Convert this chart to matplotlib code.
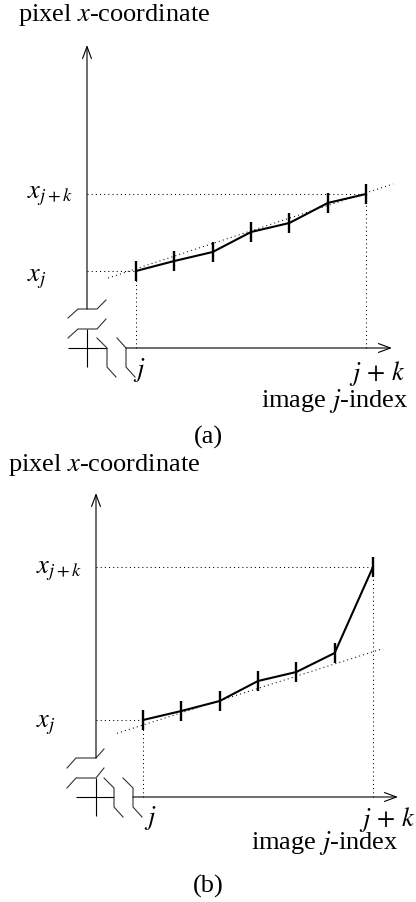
import numpy as np
import matplotlib
matplotlib.use("Agg")
import matplotlib.pyplot as plt

plt.rcParams['font.family'] = ['Liberation Serif', 'DejaVu Serif']
plt.rcParams['mathtext.fontset'] = 'stix'

# image index offset from j, and the measured pixel x-coordinate at each index
offsets = [0, 1, 2, 3, 4, 5, 6]
coord_a = [7.7, 8.7, 9.6, 11.6, 12.5, 14.5, 15.4]
coord_b = [7.7, 8.6, 9.6, 11.6, 12.5, 14.4, 23.0]

# straight-line model (value at j, slope per index) and the index range it is drawn over
fit_a = (7.92, 1.265)
fit_b = (7.2, 1.22)
span_a = (-0.73, 6.71)
span_b = (-0.68, 6.26)

panel_names = ['(a)', '(b)']

STEP = 38.33   # px per image index
UNIT = 10.0    # px per coordinate unit
W, H = 416, 451
FS = 19

# per-panel placement, in panel pixels (y measured down from panel top)
layouts = [
    dict(jx=136, base=348, yax=87, top=45, tip=392,
         ybrk=[[(-19, 30), (-9, 39), (10, 39), (19, 48)],
               [(-19, 10), (-9, 19), (10, 19), (19, 29)]],
         xbrk=[[(10, 10), (20, 0), (20, -19), (29, -29)],
               [(30, 10), (39, 0), (39, -19), (48, -29)]],
         xleft=(-19, 20), xstart=39,
         title=(18, 21), jlab=(139, 376), jk=(406, 380), idx=(408, 407),
         name=(208, 444), xj_dy=(10, 4)),
    dict(jx=143, base=346, yax=96, top=42, tip=398,
         ybrk=[[(-29, 29), (-20, 39), (0, 39), (8, 48)],
               [(-29, 9), (-20, 19), (0, 19), (8, 29)]],
         xbrk=[[(8, 19), (18, 9), (18, -10), (27, -20)],
               [(27, 19), (37, 9), (37, -10), (46, -20)]],
         xleft=(-20, 18), xstart=37,
         title=(8, 20), jlab=(150, 373), jk=(416, 375), idx=(398, 398),
         name=(208, 442), xj_dy=(7, 6)),
]


def draw_panel(ax, vals, fit, span, name, lay):
    jx, base, yax = lay['jx'], lay['base'], lay['yax']
    ax.set_xlim(-jx / STEP, (W - jx) / STEP)
    ax.set_ylim((base - H) / UNIT, base / UNIT)
    ax.axis('off')

    def P(px, py):
        return (px - jx) / STEP, (base - py) / UNIT

    def R(dx, dy):
        return (yax + dx - jx) / STEP, dy / UNIT

    x0 = (yax - jx) / STEP
    line_kw = dict(color='k', lw=0.8, solid_capstyle='butt')
    brk_kw = dict(color='0.2', lw=0.8)
    arrow = dict(arrowstyle='->,head_length=0.86,head_width=0.32', color='k',
                 lw=0.8, shrinkA=0, shrinkB=0, mutation_scale=10)

    # broken axes with open arrow heads
    ax.annotate('', xy=(x0, P(0, lay['top'])[1]), xytext=R(0, 39), arrowprops=arrow)
    ax.plot(*zip(R(0, 19), R(0, -19)), **line_kw)
    ax.plot(*zip(R(lay['xleft'][0], 0), R(lay['xleft'][1], 0)), **line_kw)
    ax.annotate('', xy=(P(lay['tip'], 0)[0], 0), xytext=R(lay['xstart'], 0), arrowprops=arrow)
    for seg in lay['ybrk'] + lay['xbrk']:
        ax.plot(*zip(*[R(dx, dy) for dx, dy in seg]), **brk_kw)

    # dotted guides to the axes
    dot = dict(color='k', lw=0.75, ls=(0, (1, 3)))
    ax.plot([x0, offsets[0]], [vals[0], vals[0]], **dot)
    ax.plot([x0, offsets[-1]], [vals[-1], vals[-1]], **dot)
    ax.plot([offsets[0], offsets[0]], [0, vals[0]], **dot)
    ax.plot([offsets[-1], offsets[-1]], [0, vals[-1]], **dot)

    # straight-line model
    xs = np.array(span)
    ax.plot(xs, fit[0] + fit[1] * xs, **dot)

    # measured coordinates
    ax.plot(offsets, vals, color='k', lw=1.5, marker='|', ms=14.4, mew=1.7)

    # labels
    lx = P(yax - 60, 0)[0]
    ax.text(lx, vals[0] - lay['xj_dy'][0] / UNIT, r'$x_j$', fontsize=FS, va='baseline', ha='left')
    ax.text(lx, vals[-1] - lay['xj_dy'][1] / UNIT, r'$x_{j+k}$', fontsize=FS, va='baseline', ha='left')
    ax.text(*P(*lay['title']), r'pixel $x$-coordinate', fontsize=FS, va='baseline', ha='left')
    ax.text(*P(*lay['jlab']), r'$j$', fontsize=FS, va='baseline', ha='center')
    ax.text(*P(*lay['jk']), r'$j\,+\,k$', fontsize=FS, va='baseline', ha='right')
    ax.text(*P(*lay['idx']), r'image $j$-index', fontsize=FS, va='baseline', ha='right')
    ax.text(*P(*lay['name']), name, fontsize=FS, va='baseline', ha='center')


def main():
    fig = plt.figure(figsize=(4.16, 9.02), dpi=100)
    ax_a = fig.add_axes([0, H / 902, 1, H / 902])
    ax_b = fig.add_axes([0, 0, 1, H / 902])
    draw_panel(ax_a, coord_a, fit_a, span_a, panel_names[0], layouts[0])
    draw_panel(ax_b, coord_b, fit_b, span_b, panel_names[1], layouts[1])
    fig.savefig('out.png', dpi=100, facecolor='white')


if __name__ == "__main__":
    main()
